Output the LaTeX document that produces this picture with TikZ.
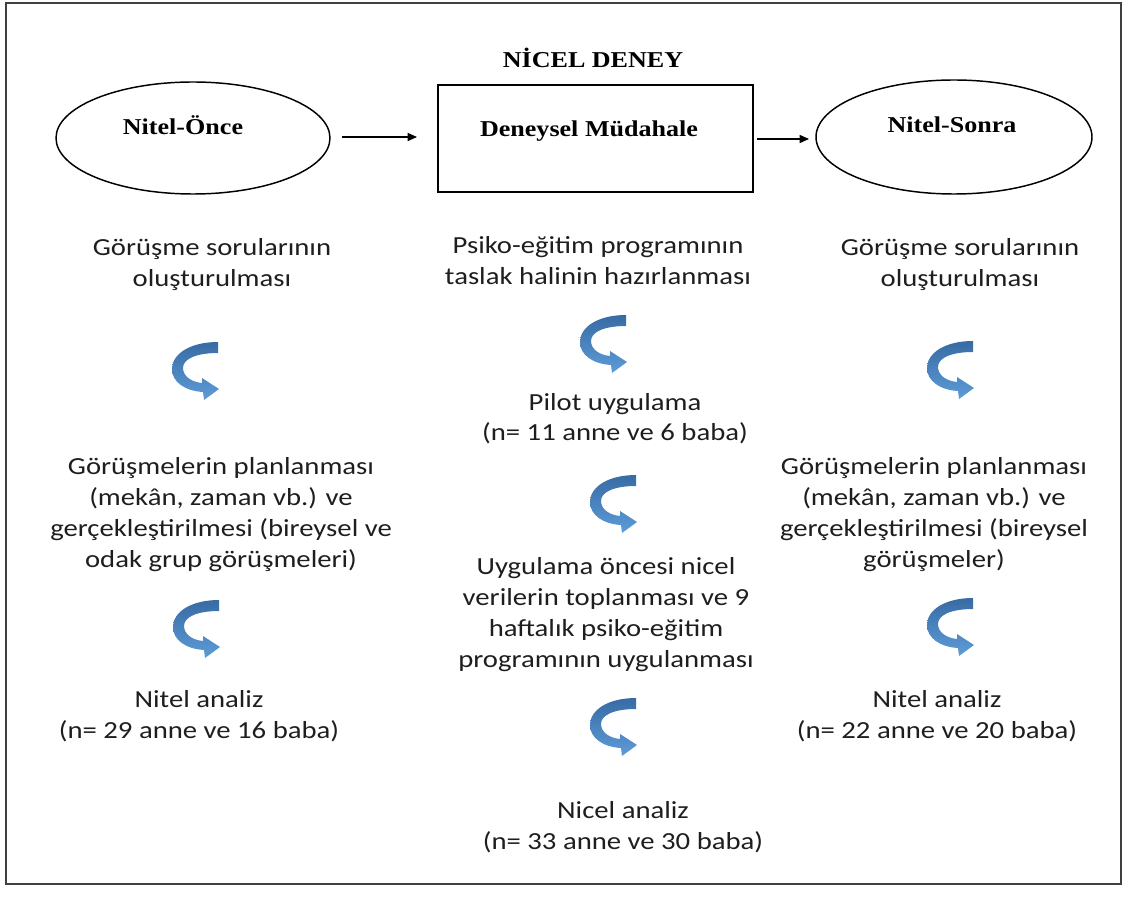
\documentclass[tikz,border=0pt]{standalone}
\usepackage{fontspec}
\setmainfont{Carlito}
\newfontfamily\hdfont{Liberation Serif}
\usetikzlibrary{arrows.meta}
\definecolor{framegray}{HTML}{404040}
\definecolor{txtgray}{HTML}{1E1E1E}
\definecolor{arrdark}{HTML}{386BA4}
\definecolor{arrlight}{HTML}{5D9CD8}
\newcommand\bodyblock[1]{\scalebox{1.17}[1]{\fontsize{18.4}{23.25}\selectfont\begin{tabular}[t]{@{}c@{}}#1\end{tabular}}}
\newcommand\headtext[1]{\scalebox{1.15}[1]{\fontsize{17}{20}\selectfont\hdfont\bfseries #1}}
\tikzset{
  body/.style={anchor=base, inner sep=0pt, text=txtgray},
  head/.style={anchor=base, inner sep=0pt, text=black},
  oval/.style={draw=black, line width=1.1pt},
  flow/.style={line width=1.1pt, -{Triangle[length=7pt,width=6pt]}},
  carrow/.pic={
    \path[top color=arrdark, bottom color=arrlight]
      (46,0) .. controls (18,0) and (0,12) .. (0,27)
      .. controls (0,40) and (13,49) .. (31,50)
      -- (32,58) -- (47,47) -- (30,36) -- (30,41)
      .. controls (19,40) and (11,34) .. (11,26)
      .. controls (11,17) and (24,11) .. (46,11) -- cycle;
  }
}
\begin{document}
\begin{tikzpicture}[x=0.75pt,y=-0.75pt]
\useasboundingbox (0,0) rectangle (1124,905);
\draw[framegray, line width=1.5pt] (6,3) rectangle (1121,884);
% header
\node[head] (title) at (593,68) {\headtext{NİCEL DENEY}};
\draw[oval] (193,138) ellipse [x radius=137, y radius=56];
\node[inner sep=0pt] (once) at (193,138) {};
\node[head] (oncet) at (183,135) {\headtext{Nitel-Önce}};
\node[draw=black, line width=1.3pt, minimum width=315*0.75pt, minimum height=107*0.75pt, inner sep=0pt] (mud) at (595.5,138.5) {};
\node[head] (mudt) at (589,137) {\headtext{Deneysel Müdahale}};
\draw[oval] (954,137) ellipse [x radius=138, y radius=57];
\node[inner sep=0pt] (sonra) at (954,137) {};
\node[head] (sonrat) at (952,133) {\headtext{Nitel-Sonra}};
\coordinate (a1s) at (342,137);
\coordinate (a1e) at (417,137);
\coordinate (a2s) at (757,139);
\coordinate (a2e) at (809,139);
\draw[flow] (a1s) -- (a1e);
\draw[flow] (a2s) -- (a2e);
% left column
\node[body] (l1) at (212,256) {\bodyblock{Görüşme sorularının\\oluşturulması}};
\node[body] (l2) at (221,474) {\bodyblock{Görüşmelerin planlanması\\(mekân, zaman vb.) ve\\gerçekleştirilmesi (bireysel ve\\odak grup görüşmeleri)}};
\node[body] (l3) at (199,707) {\bodyblock{Nitel analiz\\(n= 29 anne ve 16 baba)}};
% middle column
\node[body] (m1) at (598,254) {\bodyblock{Psiko-eğitim programının\\taslak halinin hazırlanması}};
\node[body] (m2) at (615,410) {\bodyblock{Pilot uygulama\\(n= 11 anne ve 6 baba)}};
\node[body] (m3) at (606,574) {\bodyblock{Uygulama öncesi nicel\\verilerin toplanması ve 9\\haftalık psiko-eğitim\\programının uygulanması}};
\node[body] (m4) at (623,818) {\bodyblock{Nicel analiz\\(n= 33 anne ve 30 baba)}};
% right column
\node[body] (r1) at (960,256) {\bodyblock{Görüşme sorularının\\oluşturulması}};
\node[body] (r2) at (934,474) {\bodyblock{Görüşmelerin planlanması\\(mekân, zaman vb.) ve\\gerçekleştirilmesi (bireysel\\görüşmeler)}};
\node[body] (r3) at (937,707) {\bodyblock{Nitel analiz\\(n= 22 anne ve 20 baba)}};
% curved arrows
\pic at (172,342) {carrow};
\pic at (173,600) {carrow};
\pic at (580,315) {carrow};
\pic at (590,475) {carrow};
\pic at (590,698) {carrow};
\pic at (927,341) {carrow};
\pic at (927,598) {carrow};
\end{tikzpicture}
\end{document}
